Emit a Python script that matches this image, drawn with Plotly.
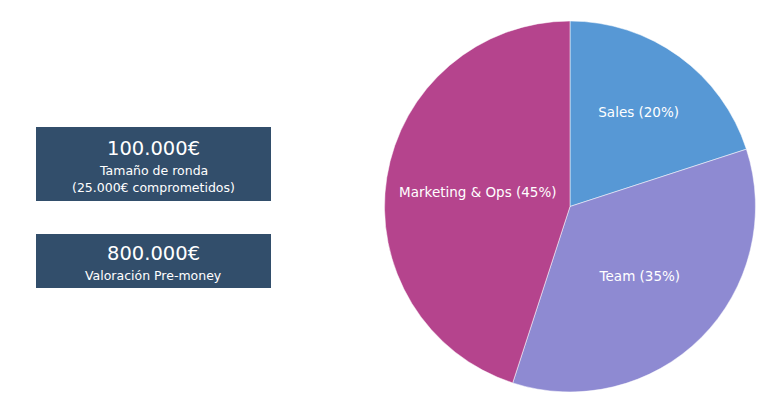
import plotly.graph_objects as go

labels = ["Sales", "Team", "Marketing & Ops"]
values = [20, 35, 45]
colors = ["#5798d5", "#8e8ad2", "#b5448d"]

box_titles = ["100.000€", "800.000€"]
box_lines = [["Tamaño de ronda", "(25.000€ comprometidos)"], ["Valoración Pre-money"]]

PW, PH = 781, 416       # page size
OFF = 8                  # default body margin of the page
W, H = PW - 2 * OFF, PH - 2 * OFF
FONT = "DejaVu Sans"


def px(x):
    return (x - OFF) / W


def py(y):
    return 1 - (y - OFF) / H


fig = go.Figure()
fig.add_trace(go.Pie(
    labels=labels, values=values, sort=False, direction="clockwise", rotation=0,
    marker=dict(colors=colors, line=dict(color="white", width=0.5)),
    texttemplate="%{label} (%{percent:.0%})", textposition="inside",
    insidetextorientation="horizontal",
    textfont=dict(family=FONT, size=13.5, color="white"),
    domain=dict(x=[px(384), px(756)], y=[py(392), py(21)]),
    showlegend=False, hoverinfo="label+percent",
))

boxes = [(36, 271, 127, 201), (36, 271, 234, 288)]
for (x0, x1, y0, y1) in boxes:
    fig.add_shape(type="rect", xref="paper", yref="paper",
                  x0=px(x0), x1=px(x1), y0=py(y1), y1=py(y0),
                  fillcolor="#324e6b", line=dict(width=0), layer="below")

title_y = [148, 253]
line_y = [[170, 188], [275]]
cx = (36 + 271) / 2
for i in range(2):
    fig.add_annotation(x=px(cx), y=py(title_y[i]), xref="paper", yref="paper",
                       xanchor="center", yanchor="middle",
                       text=box_titles[i], showarrow=False,
                       font=dict(family=FONT, size=19.5, color="white"))
    for t, yy in zip(box_lines[i], line_y[i]):
        fig.add_annotation(x=px(cx), y=py(yy), xref="paper", yref="paper",
                           xanchor="center", yanchor="middle",
                           text=t, showarrow=False,
                           font=dict(family=FONT, size=12.5, color="white"))

fig.update_layout(width=W, height=H, margin=dict(l=0, r=0, t=0, b=0),
                  paper_bgcolor="white", plot_bgcolor="white")
fig.write_html("out.html")
